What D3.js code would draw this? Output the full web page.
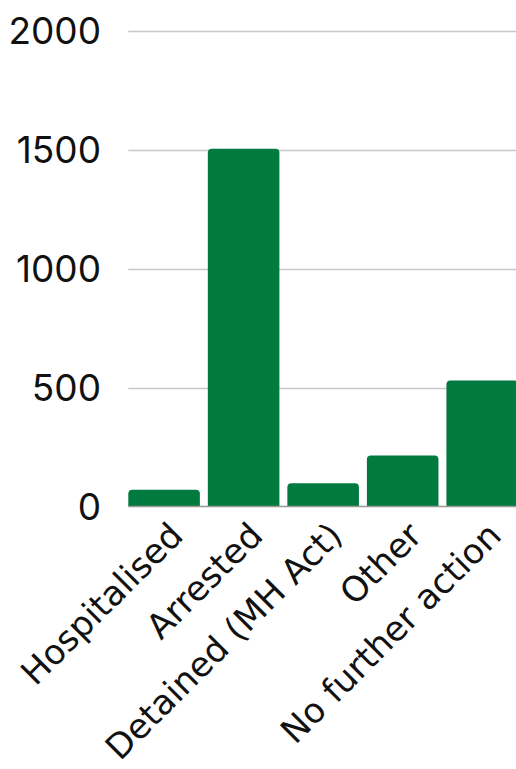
<!DOCTYPE html>
<html>
<head>
<meta charset="utf-8">
<script src="https://cdn.jsdelivr.net/npm/d3@7"></script>
<style>
  body { margin: 0; background: #fff; }
  svg { display: block; }
</style>
</head>
<body>
<svg width="516" height="769"></svg>
<script>
const categories = ["Hospitalised", "Arrested", "Detained (MH Act)", "Other", "No further action"];
const values = [70, 1505, 98, 215, 530];
const yTicks = [0, 500, 1000, 1500, 2000];

const svg = d3.select("svg");
const plotLeft = 128.3, plotRight = 518, plotTop = 31, plotBottom = 506.5;

const x = d3.scaleBand()
  .domain(categories)
  .range([plotLeft, plotRight])
  .paddingInner(0.1)
  .paddingOuter(0);

const y = d3.scaleLinear().domain([0, 2000]).range([plotBottom, plotTop]);

// gridlines
svg.append("g")
  .selectAll("line")
  .data(yTicks.filter(d => d > 0))
  .enter().append("line")
  .attr("x1", plotLeft).attr("x2", 516)
  .attr("y1", d => Math.round(y(d)) + 0.5).attr("y2", d => Math.round(y(d)) + 0.5)
  .attr("stroke", "#c8c8c8")
  .attr("stroke-width", 1.3);

// y labels
svg.append("g")
  .selectAll("text")
  .data(yTicks)
  .enter().append("text")
  .attr("x", 101)
  .attr("y", d => y(d))
  .attr("dy", "0.36em")
  .attr("text-anchor", "end")
  .attr("font-family", "Inter, sans-serif")
  .attr("font-size", 37)
  .attr("fill", "#111")
  .text(d => d);

// bars with rounded top corners
const r = 4;
svg.append("g")
  .selectAll("path")
  .data(categories)
  .enter().append("path")
  .attr("fill", "#007a3e")
  .attr("d", (d, i) => {
    const x0 = x(d), w = x.bandwidth(), y0 = y(values[i]), yb = y(0);
    return `M${x0},${yb}V${y0 + r}Q${x0},${y0} ${x0 + r},${y0}H${x0 + w - r}Q${x0 + w},${y0} ${x0 + w},${y0 + r}V${yb}Z`;
  });

// baseline
svg.append("line")
  .attr("x1", plotLeft).attr("x2", 516)
  .attr("y1", plotBottom).attr("y2", plotBottom)
  .attr("stroke", "#999")
  .attr("stroke-width", 1.5);

// x labels
svg.append("g")
  .selectAll("text")
  .data(categories)
  .enter().append("text")
  .attr("transform", d => `translate(${x(d) + x.bandwidth() / 2 + 21},${plotBottom + 31}) rotate(-45)`)
  .attr("text-anchor", "end")
  .attr("font-family", "'DejaVu Sans', sans-serif")
  .attr("font-size", 34.5)
  .attr("fill", "#111")
  .text(d => d);
</script>
</body>
</html>
